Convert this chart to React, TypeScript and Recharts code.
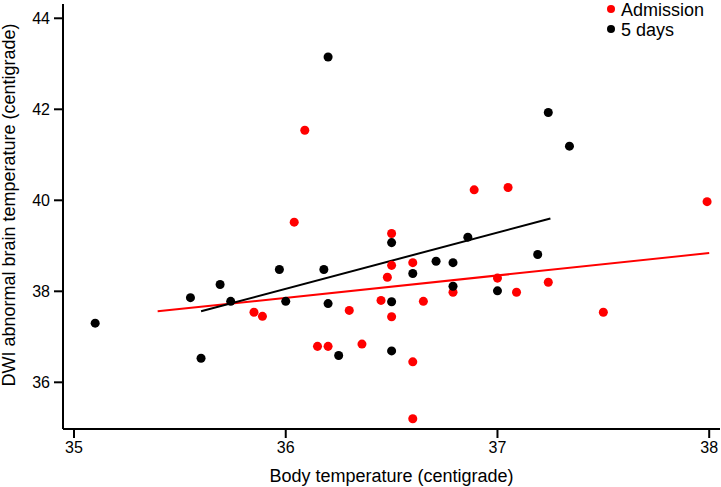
import React from 'react';
import { ScatterChart, Scatter, XAxis, YAxis, ZAxis, ReferenceLine } from 'recharts';

const admissionData = [
  { x: 36.09, y: 41.54 }, { x: 36.04, y: 39.52 }, { x: 35.85, y: 37.54 }, { x: 35.89, y: 37.45 },
  { x: 36.15, y: 36.79 }, { x: 36.2, y: 36.79 }, { x: 36.3, y: 37.58 }, { x: 36.36, y: 36.84 },
  { x: 36.45, y: 37.8 }, { x: 36.48, y: 38.31 }, { x: 36.5, y: 39.27 }, { x: 36.5, y: 38.57 },
  { x: 36.5, y: 37.44 }, { x: 36.6, y: 38.63 }, { x: 36.6, y: 36.45 }, { x: 36.6, y: 35.2 },
  { x: 36.65, y: 37.78 }, { x: 36.79, y: 37.98 }, { x: 36.89, y: 40.23 }, { x: 37.05, y: 40.28 },
  { x: 37.99, y: 39.97 }, { x: 37.0, y: 38.29 }, { x: 37.09, y: 37.98 }, { x: 37.24, y: 38.2 },
  { x: 37.5, y: 37.54 },
];

const fiveDaysData = [
  { x: 35.1, y: 37.3 }, { x: 35.55, y: 37.86 }, { x: 35.6, y: 36.53 }, { x: 35.69, y: 38.15 },
  { x: 35.74, y: 37.78 }, { x: 35.97, y: 38.48 }, { x: 36.0, y: 37.78 }, { x: 36.18, y: 38.48 },
  { x: 36.2, y: 37.73 }, { x: 36.25, y: 36.59 }, { x: 36.5, y: 39.07 }, { x: 36.5, y: 37.77 },
  { x: 36.5, y: 36.69 }, { x: 36.6, y: 38.39 }, { x: 36.71, y: 38.66 }, { x: 36.79, y: 38.63 },
  { x: 36.79, y: 38.11 }, { x: 36.86, y: 39.19 }, { x: 37.19, y: 38.81 }, { x: 37.0, y: 38.01 },
  { x: 36.2, y: 43.15 }, { x: 37.24, y: 41.93 }, { x: 37.34, y: 41.19 },
];

const admissionFit = [{ x: 35.395, y: 37.56 }, { x: 38.0, y: 38.84 }];
const fiveDaysFit = [{ x: 35.6, y: 37.56 }, { x: 37.25, y: 39.6 }];

const xTicks = [35, 36, 37, 38];
const yTicks = [36, 38, 40, 42, 44];

const seriesNames = ['Admission', '5 days'];
const seriesColors = ['#ff0000', '#000000'];

const FONT = "'Liberation Sans', Arial, sans-serif";

const LegendBox = () => (
  <div
    style={{
      position: 'absolute',
      left: 607,
      top: 0,
      fontFamily: FONT,
      fontSize: 18,
      lineHeight: '20px',
      color: '#000',
    }}
  >
    {seriesNames.map((n, i) => (
      <div key={n} style={{ display: 'flex', alignItems: 'center', whiteSpace: 'nowrap' }}>
        <span
          style={{
            display: 'inline-block',
            width: 8,
            height: 8,
            borderRadius: 4,
            background: seriesColors[i],
            marginRight: 6,
            position: 'relative',
            top: -1,
          }}
        />
        <span>{n}</span>
      </div>
    ))}
  </div>
);

export default function App() {
  return (
    <div style={{ position: 'absolute', left: 0, top: 0, width: 721, height: 487, background: '#fff', overflow: 'hidden' }}>
      <ScatterChart
        width={721}
        height={487}
        margin={{ top: 4, right: 1, bottom: 28, left: 8 }}
        style={{ fontFamily: FONT }}
      >
        <XAxis
          type="number"
          dataKey="x"
          domain={[34.948, 38.051]}
          ticks={xTicks}
          allowDataOverflow
          height={30}
          tickSize={9}
          tickMargin={4}
          axisLine={{ stroke: '#000', strokeWidth: 2 }}
          tickLine={{ stroke: '#000', strokeWidth: 2 }}
          tick={{ fill: '#000', fontSize: 16, fontFamily: FONT }}
          label={{
            value: 'Body temperature (centigrade)',
            position: 'bottom',
            offset: 10,
            fill: '#000',
            fontSize: 18,
            fontFamily: FONT,
          }}
        />
        <YAxis
          type="number"
          dataKey="y"
          domain={[34.974, 44.314]}
          ticks={yTicks}
          allowDataOverflow
          width={55}
          tickSize={9}
          tickMargin={4}
          axisLine={{ stroke: '#000', strokeWidth: 2 }}
          tickLine={{ stroke: '#000', strokeWidth: 2 }}
          tick={{ fill: '#000', fontSize: 16, fontFamily: FONT }}
          label={{
            content: () => (
              <text
                x={15}
                y={205}
                transform="rotate(-90 15 205)"
                textAnchor="middle"
                fill="#000"
                fontSize={18}
                fontFamily={FONT}
              >
                DWI abnormal brain temperature (centigrade)
              </text>
            ),
          }}
        />
        <ZAxis range={[72, 72]} />
        <ReferenceLine
          segment={admissionFit}
          stroke={seriesColors[0]}
          strokeWidth={2}
          ifOverflow="visible"
        />
        <ReferenceLine
          segment={fiveDaysFit}
          stroke={seriesColors[1]}
          strokeWidth={2}
          ifOverflow="visible"
        />
        <Scatter name={seriesNames[0]} data={admissionData} fill={seriesColors[0]} isAnimationActive={false} />
        <Scatter name={seriesNames[1]} data={fiveDaysData} fill={seriesColors[1]} isAnimationActive={false} />
      </ScatterChart>
      <LegendBox />
    </div>
  );
}
